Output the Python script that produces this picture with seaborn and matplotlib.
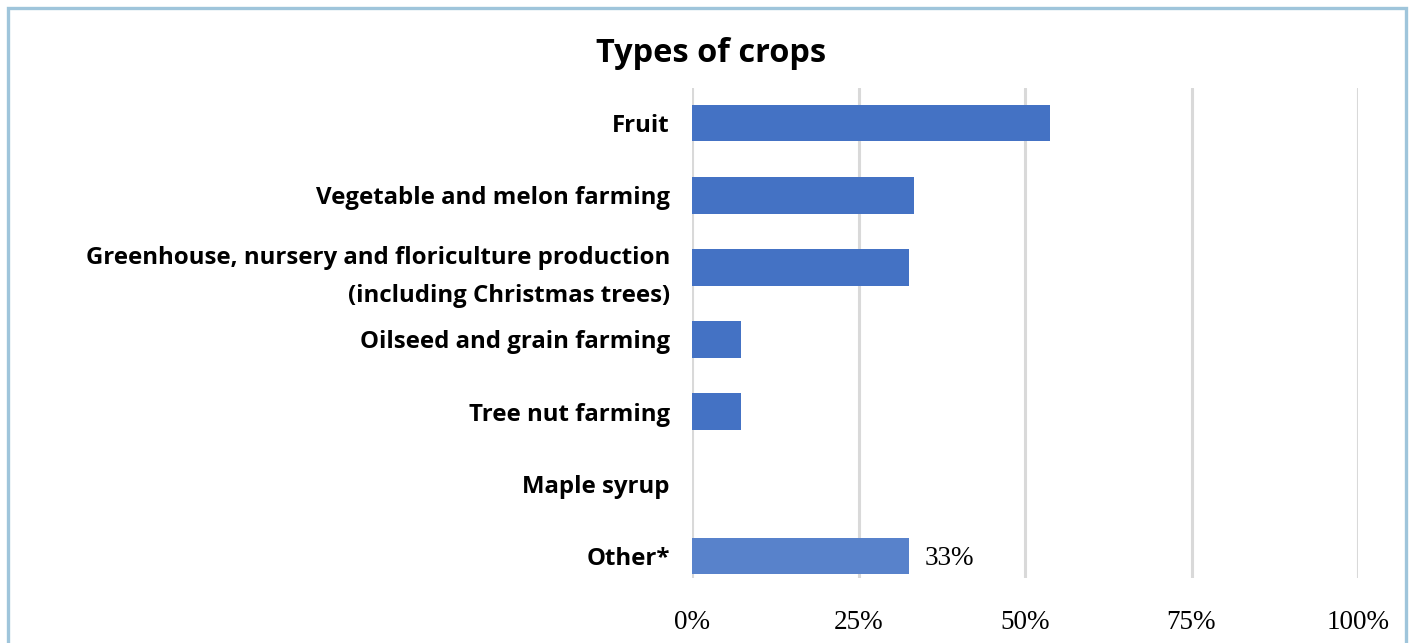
import matplotlib
matplotlib.use("Agg")
import matplotlib.pyplot as plt
import matplotlib.patches as mpatches
import seaborn as sns
import pandas as pd

# data
crops = ["Fruit", "Vegetable and melon farming",
         "Greenhouse, nursery and floriculture production\n(including Christmas trees)",
         "Oilseed and grain farming", "Tree nut farming", "Maple syrup", "Other*"]
shares = [0.538, 0.334, 0.326, 0.074, 0.074, 0.0, 0.326]
bar_colors = ["#4472C4", "#4472C4", "#4472C4", "#4472C4", "#4472C4", "#4472C4", "#5882CB"]
xticks = [0, 0.25, 0.5, 0.75, 1.0]
xtick_labels = ["0%", "25%", "50%", "75%", "100%"]

df = pd.DataFrame({"crop": crops, "share": shares})

sns.set_style("white")
plt.rcParams['font.family'] = ['Open Sans', 'DejaVu Sans']
plt.rcParams['text.color'] = 'black'
plt.rcParams['xtick.color'] = 'black'
plt.rcParams['ytick.color'] = 'black'

fig = plt.figure(figsize=(14.13, 6.43), dpi=100)
ax = fig.add_axes([692 / 1413, 1 - 578 / 643, 666 / 1413, (578 - 88) / 643])

sns.barplot(data=df, x="share", y="crop", hue="crop", palette=bar_colors,
            legend=False, width=0.51, ax=ax, orient="h", saturation=1,
            edgecolor="none", linewidth=0)

ax.set_xlim(0, 1)
ax.set_ylim(6.305, -0.485)
ax.set_xticks(xticks)
ax.set_xticklabels(xtick_labels, family="Liberation Serif", fontsize=19.5)
ax.tick_params(axis="x", length=0, pad=23)
ax.tick_params(axis="y", length=0, pad=16)
for lbl in ax.get_yticklabels():
    lbl.set_fontweight("bold")
    lbl.set_fontsize(17.3)
    lbl.set_linespacing(1.75)
ax.set_xlabel("")
ax.set_ylabel("")
ax.grid(axis="x", color="#D9D9D9", linewidth=2.2)
ax.set_axisbelow(True)
for s in ax.spines.values():
    s.set_visible(False)

# value label on the last bar
ax.text(shares[-1] + 0.024, 6.04, "33%", va="center", ha="left",
        family="Liberation Serif", fontsize=19.5)

fig.text(711 / 1413, 1 - 53 / 643, "Types of crops", ha="center", va="center",
         fontsize=23.4, fontweight="bold")

# light blue frame around the chart
fig.patches.append(mpatches.Rectangle((7.5 / 1413, -0.05), 1398 / 1413, 1.05 - 7.5 / 643,
                                      transform=fig.transFigure, fill=False,
                                      edgecolor="#9FC5DB", linewidth=2.4))

fig.savefig("out.png", dpi=100)
